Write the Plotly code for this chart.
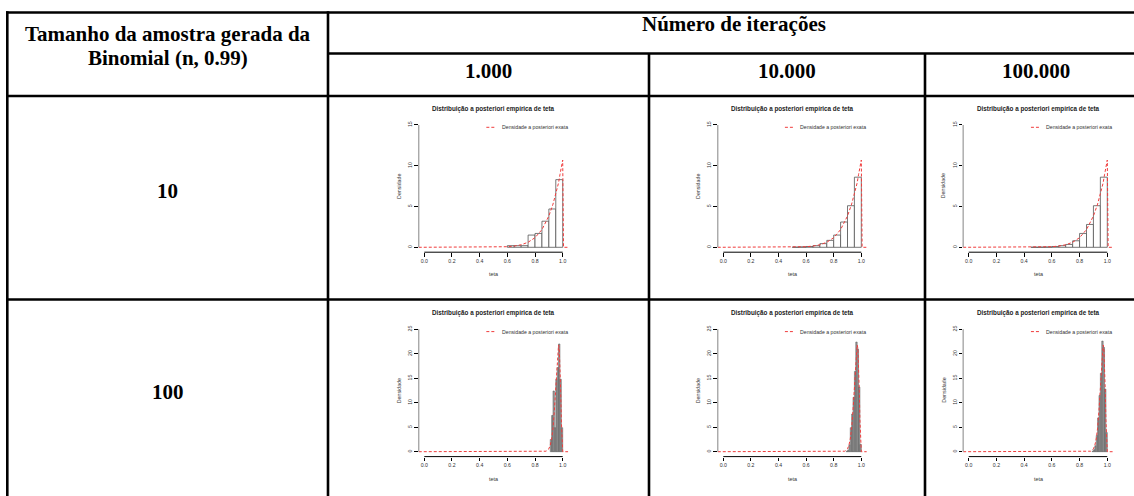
import plotly.graph_objects as go

# ---------------- data ----------------
iter_labels = ["1.000", "10.000", "100.000"]
n_labels = ["10", "100"]
header_left_lines = ["Tamanho da amostra gerada da", "Binomial (n, 0.99)"]
header_top = "Número de iterações"
plot_title = "Distribuição a posteriori empírica de teta"
legend_text = "Densidade a posteriori exata"
x_label = "teta"
y_label = "Densidade"

x_ticks = [0.0, 0.2, 0.4, 0.6, 0.8, 1.0]
x_tick_text = ["0.0", "0.2", "0.4", "0.6", "0.8", "1.0"]
y_ticks_r1 = [0, 5, 10, 15]
y_ticks_r2 = [0, 5, 10, 15, 20, 25]

bin_width_r1 = 0.05
bin_width_r2 = 0.01

# n = 10 row: histogram bin left edges and densities
r1c1_left = [0.60, 0.65, 0.70, 0.75, 0.80, 0.85, 0.90, 0.95]
r1c1_dens = [0.2, 0.2, 0.2, 1.5, 1.7, 3.2, 4.7, 8.3]
r1c2_left = [0.50, 0.55, 0.60, 0.65, 0.70, 0.75, 0.80, 0.85, 0.90, 0.95]
r1c2_dens = [0.02, 0.05, 0.1, 0.2, 0.45, 0.85, 1.5, 3.1, 5.1, 8.6]
r1c3_left = [0.45, 0.50, 0.55, 0.60, 0.65, 0.70, 0.75, 0.80, 0.85, 0.90, 0.95]
r1c3_dens = [0.01, 0.02, 0.04, 0.1, 0.2, 0.35, 0.8, 1.7, 2.8, 5.1, 8.6]

# n = 100 row
r2c1_left = [0.91, 0.92, 0.93, 0.94, 0.95, 0.96, 0.97, 0.98, 0.99]
r2c1_dens = [2.5, 7.4, 12.4, 4.9, 14.8, 17.2, 22.0, 14.8, 4.9]
r2c2_left = [0.89, 0.90, 0.91, 0.92, 0.93, 0.94, 0.95, 0.96, 0.97, 0.98, 0.99]
r2c2_dens = [0.1, 0.3, 1.4, 4.9, 7.7, 11.1, 16.4, 22.4, 21.0, 13.2, 1.5]
r2c3_left = [0.89, 0.90, 0.91, 0.92, 0.93, 0.94, 0.95, 0.96, 0.97, 0.98, 0.99]
r2c3_dens = [0.1, 0.4, 1.2, 3.3, 6.9, 11.5, 16.0, 22.6, 21.3, 12.8, 3.9]

# exact posterior density curves
curve_r1_x = [-0.04, 0.40, 0.50, 0.55, 0.60, 0.65, 0.70, 0.75, 0.80, 0.85, 0.90, 0.93, 0.95, 0.97, 0.98, 0.99, 1.00, 1.006, 1.04]
curve_r1_y = [0, 0, 0.01, 0.03, 0.07, 0.15, 0.31, 0.62, 1.18, 2.17, 3.84, 5.3, 6.5, 7.9, 8.9, 9.8, 10.7, 0, 0]
curve_r2_x = [-0.04, 0.85, 0.88, 0.90, 0.91, 0.92, 0.93, 0.94, 0.95, 0.96, 0.965, 0.97, 0.975, 0.98, 0.985, 0.99, 0.995, 1.0, 1.04]
curve_r2_y = [0, 0, 0.1, 0.6, 1.3, 2.6, 4.8, 8.5, 13.5, 19.0, 21.0, 21.8, 21.2, 18.2, 12.8, 6.5, 1.8, 0, 0]

hist_left = [[r1c1_left, r1c2_left, r1c3_left], [r2c1_left, r2c2_left, r2c3_left]]
hist_dens = [[r1c1_dens, r1c2_dens, r1c3_dens], [r2c1_dens, r2c2_dens, r2c3_dens]]
bin_widths = [bin_width_r1, bin_width_r2]
curves = [(curve_r1_x, curve_r1_y), (curve_r2_x, curve_r2_y)]
y_ticks_rows = [y_ticks_r1, y_ticks_r2]

# ---------------- layout geometry (pixels) ----------------
W, H = 1134, 496
col_tick_px = [(424.3, 562.7), (723.3, 861.3), (968.7, 1107.3)]   # pixel of x=0 and x=1
row_tick_px = [(247.3, 125.0), (451.7, 329.3)]                     # pixel of y=0 and y=max tick
bar_fill = ["white", "#a0a0a0"]
bar_line = [("#555", 0.8), ("#505050", 0.5)]

def px(x):
    return x / W

def py(y):
    return 1 - y / H

SANS = "Liberation Sans, Arial, Helvetica, sans-serif"
SERIF = "Liberation Serif, Times New Roman, serif"
RED = "#f03c3c"

fig = go.Figure()
layout = dict(width=W, height=H, margin=dict(l=0, r=0, t=0, b=0), autosize=False,
              paper_bgcolor="white", plot_bgcolor="white", showlegend=False)
shapes = []
annotations = []

k = 0
for r in range(2):
    yt = y_ticks_rows[r]
    Y0, Yt = row_tick_px[r]
    dy = Y0 - Yt
    bottom_px, top_px = Y0 + 0.04 * dy, Yt - 0.04 * dy
    for c in range(3):
        k += 1
        sx = "" if k == 1 else str(k)
        xa, ya = "x" + sx, "y" + sx
        X0, X1 = col_tick_px[c]
        dx = X1 - X0
        left_px, right_px = X0 - 0.04 * dx, X1 + 0.04 * dx
        xr = x_ticks[-1] - x_ticks[0]
        yr = yt[-1] - yt[0]
        layout["xaxis" + sx] = dict(
            domain=[px(left_px), px(right_px)], anchor=ya,
            range=[x_ticks[0] - 0.04 * xr, x_ticks[-1] + 0.04 * xr],
            tickvals=x_ticks, ticktext=x_tick_text, ticks="outside", ticklen=3.5,
            tickwidth=0.8, tickcolor="black", showline=False, showgrid=False, zeroline=False,
            tickfont=dict(family=SANS, size=5.2, color="#333"), fixedrange=True)
        layout["yaxis" + sx] = dict(
            domain=[py(bottom_px), py(top_px)], anchor=xa,
            range=[yt[0] - 0.04 * yr, yt[-1] + 0.04 * yr],
            tickvals=yt, ticks="outside", ticklen=3.5, tickwidth=0.8, tickcolor="black",
            tickangle=-90, showline=False, showgrid=False, zeroline=False,
            tickfont=dict(family=SANS, size=5.2, color="#333"), fixedrange=True)

        bw = bin_widths[r]
        fig.add_trace(go.Bar(
            x=hist_left[r][c], y=hist_dens[r][c], width=bw, offset=0,
            marker=dict(color=bar_fill[r], line=dict(color=bar_line[r][0], width=bar_line[r][1])),
            xaxis=xa, yaxis=ya, hoverinfo="skip"))
        cx, cy = curves[r]
        fig.add_trace(go.Scatter(
            x=cx, y=cy, mode="lines", line=dict(color=RED, width=1, dash="3px,2px"),
            xaxis=xa, yaxis=ya, hoverinfo="skip"))

        # axis lines (R style: from first to last tick)
        shapes.append(dict(type="line", xref=xa, yref=ya + " domain",
                           x0=x_ticks[0], x1=x_ticks[-1], y0=0, y1=0,
                           line=dict(color="black", width=1)))
        shapes.append(dict(type="line", xref=xa + " domain", yref=ya,
                           x0=0, x1=0, y0=yt[0], y1=yt[-1],
                           line=dict(color="#999", width=1.2)))

        # title, axis labels, legend
        annotations.append(dict(text="<b>" + plot_title + "</b>", xref="paper", yref="paper",
                                x=px((left_px + right_px) / 2), y=py(top_px - 11),
                                xanchor="center", yanchor="middle", showarrow=False,
                                font=dict(family=SANS, size=6.3, color="#222")))
        annotations.append(dict(text=x_label, xref="paper", yref="paper",
                                x=px((left_px + right_px) / 2), y=py(bottom_px + 22),
                                xanchor="center", yanchor="middle", showarrow=False,
                                font=dict(family=SANS, size=5.4, color="#333")))
        annotations.append(dict(text=y_label, xref="paper", yref="paper",
                                x=px(left_px - 20), y=py((top_px + bottom_px) / 2),
                                xanchor="center", yanchor="middle", showarrow=False, textangle=-90,
                                font=dict(family=SANS, size=5.3, color="#333")))
        ly = top_px + 7.2
        shapes.append(dict(type="line", xref="paper", yref="paper",
                           x0=px(right_px - 81.9), x1=px(right_px - 73.6), y0=py(ly), y1=py(ly),
                           line=dict(color=RED, width=1, dash="3px,2px")))
        annotations.append(dict(text=legend_text, xref="paper", yref="paper",
                                x=px(right_px - 68.6), y=py(ly), xanchor="left", yanchor="middle",
                                showarrow=False, font=dict(family=SANS, size=5.2, color="#333")))

# ---------------- table ----------------
LW = 2.6
def hline(y, x0, x1):
    shapes.append(dict(type="line", xref="paper", yref="paper", x0=px(x0), x1=px(x1),
                       y0=py(y), y1=py(y), line=dict(color="black", width=LW)))

def vline(x, y0, y1):
    shapes.append(dict(type="line", xref="paper", yref="paper", x0=px(x), x1=px(x),
                       y0=py(y0), y1=py(y1), line=dict(color="black", width=LW)))

hline(12.5, 6, W)
hline(53.5, 328, W)
hline(96, 6, W)
hline(299.5, 6, W)
vline(7.3, 11.2, H)
vline(328, 11.2, H)
vline(649, 53.5, H)
vline(925, 53.5, H)

def text(s, x, y, size=21):
    annotations.append(dict(text="<b>" + s + "</b>", xref="paper", yref="paper", x=px(x), y=py(y),
                            xanchor="center", yanchor="middle", showarrow=False,
                            font=dict(family=SERIF, size=size, color="black")))

text(header_left_lines[0], 167.5, 34)
text(header_left_lines[1], 167.5, 58)
text(header_top, 734, 24)
for lab, xc in zip(iter_labels, [488.5, 787, 1036]):
    text(lab, xc, 71)
for lab, yc in zip(n_labels, [191, 392]):
    text(lab, 167.5, yc)

layout["shapes"] = shapes
layout["annotations"] = annotations
fig.update_layout(**layout)
fig.write_html("out.html", config={"displayModeBar": False},
               post_script="document.body.style.margin='0px';document.body.style.overflow='hidden';")
